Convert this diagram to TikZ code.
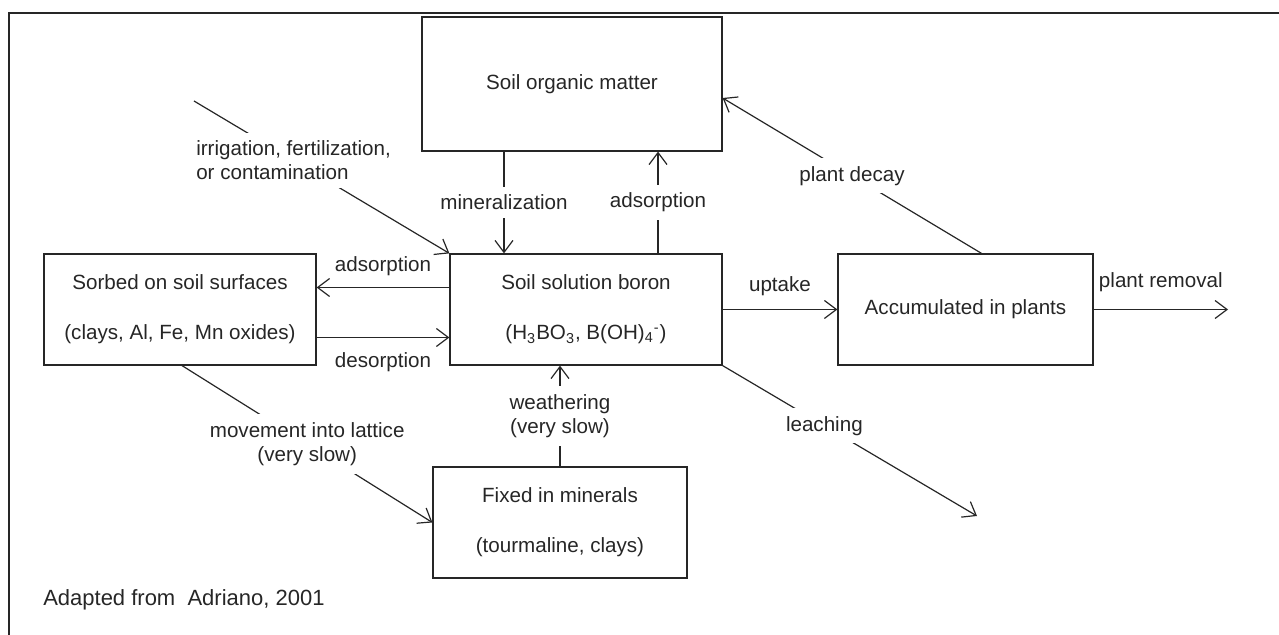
\documentclass[tikz,border=0pt]{standalone}
\usepackage{fontspec}
\setmainfont{Liberation Sans}
\usetikzlibrary{arrows.meta}

\begin{document}
\begin{tikzpicture}[
            x = 0.5pt, y = -0.5pt, % pixel grid, y goes down
            > = {Straight Barb[length=6pt,width=9pt]}, % open arrow head
            line width = 0.6pt,
            color = black!85,
            font = \fontsize{10.3}{12}\selectfont,
            pool/.style = {shape=rectangle, draw, align=center, minimum width=136pt, minimum height=55.5pt},
            flux/.style = {fill=white, inner sep=4pt}
        ]
\useasboundingbox (0,0) rectangle (1279,635);
\draw[line width=1pt] (9,660) -- (9,13) -- (1300,13);

\node[pool, minimum width=150pt, minimum height=67pt] (OM) at (572,84) {Soil organic matter};
\node[pool] (SOL) at (586,309.5) {Soil solution boron\\[13pt](H\textsubscript{3}BO\textsubscript{3}, B(OH)\textsubscript{4}\textsuperscript{-})};
\node[pool] (SORB) at (180,309.5) {Sorbed on soil surfaces\\[13pt](clays, Al, Fe, Mn oxides)};
\node[pool, minimum width=127.5pt] (PL) at (965.5,309.5) {Accumulated in plants};
\node[pool, minimum width=127pt] (FIX) at (560,522.5) {Fixed in minerals\\[13pt](tourmaline, clays)};

\coordinate (IN) at (194,101);
\coordinate (OUT) at (1228,309.5);
\coordinate (LEACH) at (977,516);

\path [->] ([yshift=11pt]SOL.west) edge node[above=2pt] {adsorption} ([yshift=11pt]SORB.east);
\path [->] ([yshift=-14pt]SORB.east) edge node[below=4pt] {desorption} ([yshift=-14pt]SOL.west);
\path [->] ([xshift=-34pt]OM.south) edge node[flux] {mineralization} ([xshift=-34pt]OM.south |- SOL.north);
\path [->] ([xshift=36pt]SOL.north) edge node[flux] {adsorption} ([xshift=36pt]SOL.north |- OM.south);
\path [->] (FIX.north) edge node[flux, align=center] {weathering\\(very slow)} (FIX.north |- SOL.south);
\path [->] (SOL.east) edge node[above=3pt] {uptake} (PL.west);
\path [->] (PL.east) edge node[above=5pt] {plant removal} (OUT);
\path [->] ([xshift=8pt]PL.north) edge node[flux] {plant decay} ([yshift=-7pt]OM.east);
\path [->] (SOL.south east) edge node[flux, pos=0.4] {leaching} (LEACH);
\path [->] ([xshift=1pt]SORB.south) edge node[flux, align=center] {movement into lattice\\(very slow)} (FIX.west);
\path [->] (IN) edge node[flux, align=left, pos=0.39] {irrigation, fertilization,\\or contamination} (SOL.north west);

\node[anchor=west, font=\fontsize{11}{13}\selectfont] (SRC) at (36,600) {Adapted from~ Adriano, 2001};
\end{tikzpicture}
\end{document}
